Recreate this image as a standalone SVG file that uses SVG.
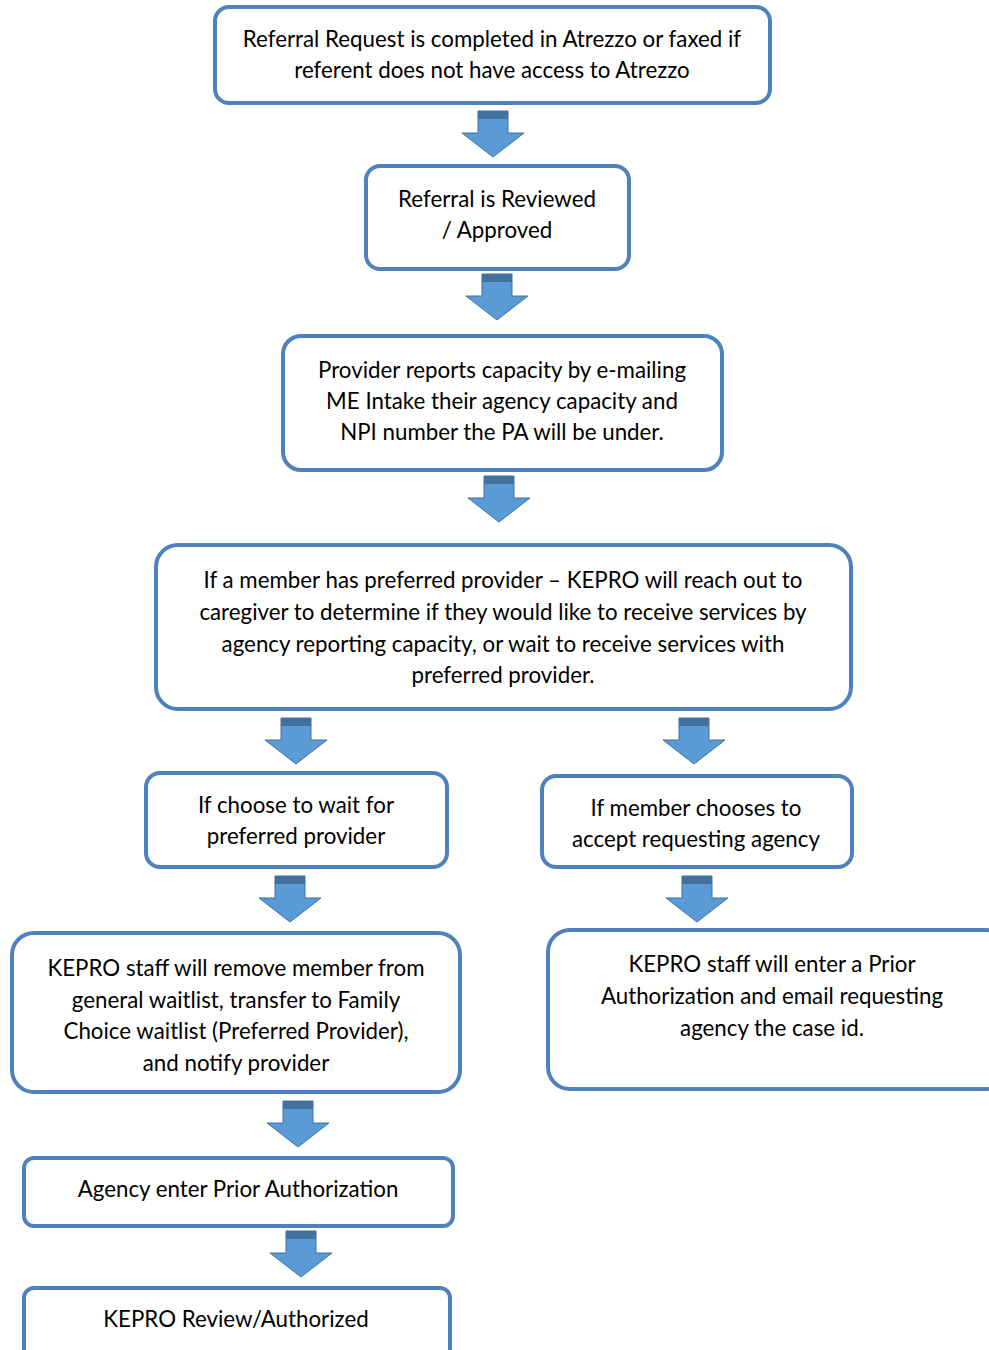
<svg xmlns="http://www.w3.org/2000/svg" width="989" height="1350" viewBox="0 0 989 1350">
<defs>
<style>
.box{fill:#fff;stroke:#4F81BD;stroke-width:4}
.t{font-family:Lato,"Open Sans","Liberation Sans",sans-serif;font-size:22.3px;fill:#000;text-anchor:middle}
.arr{fill:#5B9BD5;stroke:#41719C;stroke-width:1}
.band{fill:#41719C}
</style>
<g id="arrowShape">
<path class="arr" d="M-15,0 H15 V22 H31 L0,46 L-31,22 H-15 Z"/>
<rect class="band" x="-15" y="0" width="30" height="8"/>
</g>
</defs>
<g id="n1"><rect class="box" x="215" y="7" width="555" height="96" rx="14"/>
<text class="t" x="492" y="47">Referral Request is completed in Atrezzo or faxed if</text>
<text class="t" x="492" y="78">referent does not have access to Atrezzo</text></g>
<g id="n2"><rect class="box" x="366" y="166" width="263" height="103" rx="14"/>
<text class="t" x="497" y="207">Referral is Reviewed</text>
<text class="t" x="497" y="238">/ Approved</text></g>
<g id="n3"><rect class="box" x="283" y="336" width="439" height="134" rx="18"/>
<text class="t" x="502" y="378">Provider reports capacity by e-mailing</text>
<text class="t" x="502" y="409">ME Intake their agency capacity and</text>
<text class="t" x="502" y="440">NPI number the PA will be under.</text></g>
<g id="n4"><rect class="box" x="156" y="545" width="695" height="164" rx="22"/>
<text class="t" x="503" y="588">If a member has preferred provider – KEPRO will reach out to</text>
<text class="t" x="503" y="620">caregiver to determine if they would like to receive services by</text>
<text class="t" x="503" y="652">agency reporting capacity, or wait to receive services with</text>
<text class="t" x="503" y="683">preferred provider.</text></g>
<g id="n5l"><rect class="box" x="146" y="773" width="301" height="94" rx="14"/>
<text class="t" x="296" y="813">If choose to wait for</text>
<text class="t" x="296" y="844">preferred provider</text></g>
<g id="n5r"><rect class="box" x="542" y="776" width="310" height="91" rx="14"/>
<text class="t" x="696" y="816">If member chooses to</text>
<text class="t" x="696" y="847">accept requesting agency</text></g>
<g id="n6l"><rect class="box" x="12" y="933" width="448" height="159" rx="22"/>
<text class="t" x="236" y="976">KEPRO staff will remove member from</text>
<text class="t" x="236" y="1008">general waitlist, transfer to Family</text>
<text class="t" x="236" y="1039">Choice waitlist (Preferred Provider),</text>
<text class="t" x="236" y="1071">and notify provider</text></g>
<g id="n6r"><rect class="box" x="548" y="930" width="460" height="159" rx="22"/>
<text class="t" x="772" y="972">KEPRO staff will enter a Prior</text>
<text class="t" x="772" y="1004">Authorization and email requesting</text>
<text class="t" x="772" y="1036">agency the case id.</text></g>
<g id="n7"><rect class="box" x="24" y="1158" width="429" height="68" rx="10"/>
<text class="t" x="238" y="1197">Agency enter Prior Authorization</text></g>
<g id="n8"><rect class="box" x="24" y="1288" width="426" height="80" rx="10"/>
<text class="t" x="236" y="1327">KEPRO Review/Authorized</text></g>
<g id="connectors">
<use href="#arrowShape" x="493" y="111"/>
<use href="#arrowShape" x="497" y="274"/>
<use href="#arrowShape" x="499" y="476"/>
<use href="#arrowShape" x="296" y="718"/>
<use href="#arrowShape" x="694" y="718"/>
<use href="#arrowShape" x="290" y="876"/>
<use href="#arrowShape" x="697" y="876"/>
<use href="#arrowShape" x="298" y="1101"/>
<use href="#arrowShape" x="301" y="1231"/>
</g>
</svg>
